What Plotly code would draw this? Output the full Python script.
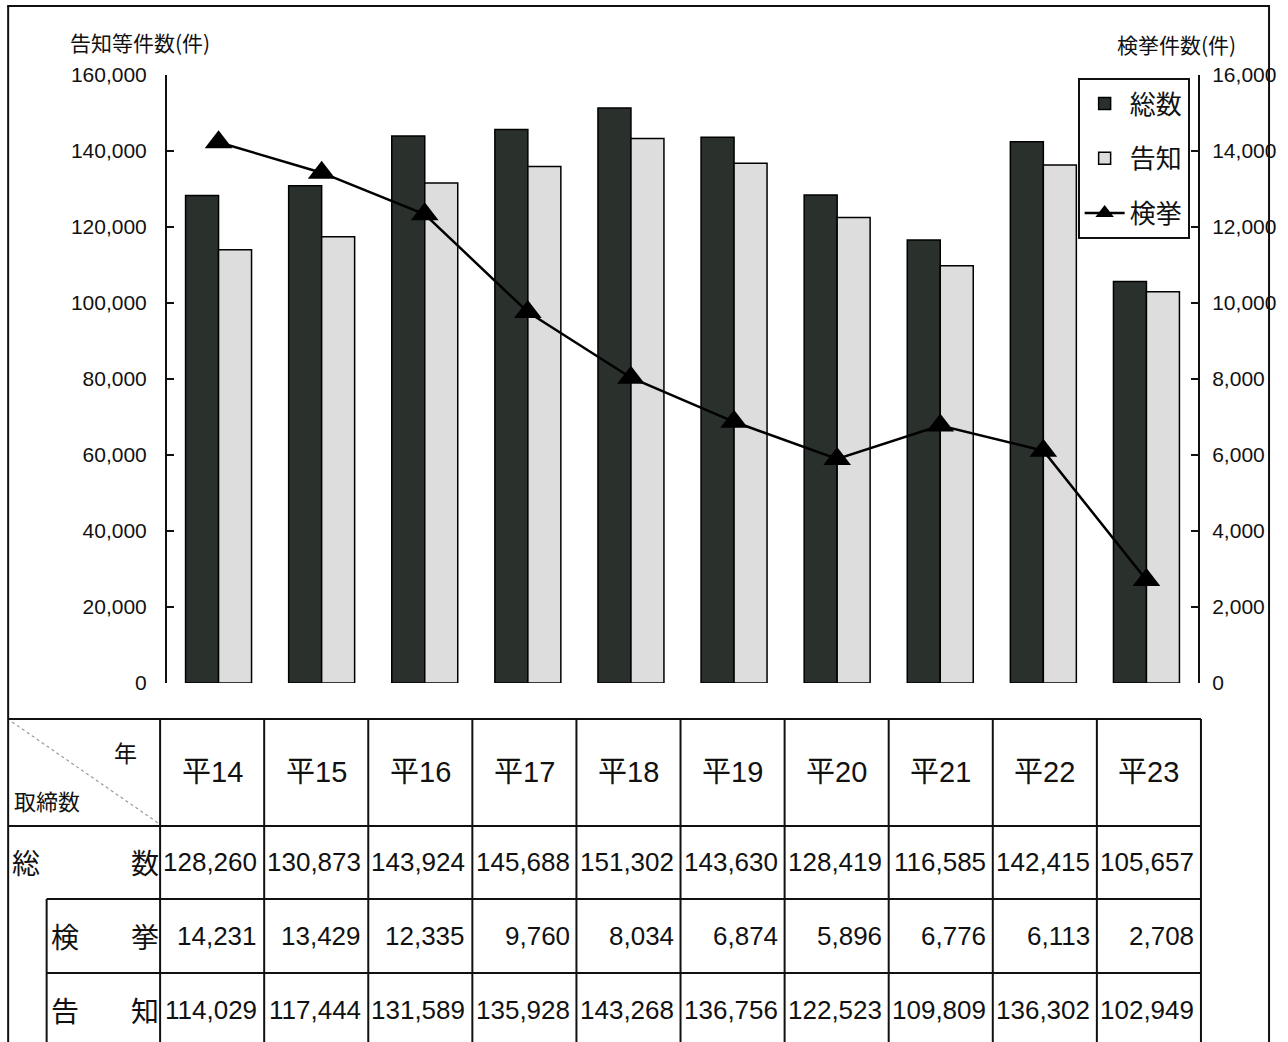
import plotly.graph_objects as go

# ---------------- data ----------------
years = ["平14", "平15", "平16", "平17", "平18", "平19", "平20", "平21", "平22", "平23"]
total = [128260, 130873, 143924, 145688, 151302, 143630, 128419, 116585, 142415, 105657]
arrest = [14231, 13429, 12335, 9760, 8034, 6874, 5896, 6776, 6113, 2708]
notice = [114029, 117444, 131589, 135928, 143268, 136756, 122523, 109809, 136302, 102949]

# ---------------- layout constants ----------------
W, H = 1288, 1042
L, R, T, B = 167, 1212, 75, 683  # plot area in pixels

NUM_FONT = "Liberation Sans, Arial, sans-serif"
CJK_FONT = "Noto Sans CJK JP, Liberation Sans, sans-serif"
MIX_FONT = "Liberation Sans, Noto Sans CJK JP, sans-serif"


def px(x):
    return (x - L) / (R - L)


def py(y):
    return (B - y) / (B - T)


fig = go.Figure()
fig.add_trace(go.Bar(
    x=years, y=total, name="総数", legendgroup="a",
    marker=dict(color="#2a302c", line=dict(color="#000000", width=1.5)),
))
fig.add_trace(go.Bar(
    x=years, y=notice, name="告知", legendgroup="b",
    marker=dict(color="#dcdddc", line=dict(color="#000000", width=1.5)),
))
fig.add_trace(go.Scatter(
    x=years, y=arrest, name="検挙", yaxis="y2", legendgroup="c",
    mode="lines+markers",
    line=dict(color="#000000", width=2.5),
    marker=dict(symbol="triangle-up", size=24, color="#000000"),
))

shapes = []
annotations = []


def hline(y, x0, x1, w=2, color="#111111", dash="solid"):
    shapes.append(dict(type="line", xref="paper", yref="paper",
                       x0=px(x0), x1=px(x1), y0=py(y), y1=py(y),
                       line=dict(color=color, width=w, dash=dash)))


def vline(x, y0, y1, w=2, color="#111111"):
    shapes.append(dict(type="line", xref="paper", yref="paper",
                       x0=px(x), x1=px(x), y0=py(y0), y1=py(y1),
                       line=dict(color=color, width=w)))


def text(x, y, s, size, family=NUM_FONT, xanchor="center"):
    annotations.append(dict(xref="paper", yref="paper", x=px(x), y=py(y),
                            text=s, showarrow=False, xanchor=xanchor,
                            yanchor="middle",
                            font=dict(family=family, size=size, color="#111111")))


# outer frame
hline(6, 5, 1285, w=2)
vline(6, 6, H, w=2)
vline(1284, 6, H, w=2)

# table geometry
tab_left, first_col, col_w = 6, 160, 105.5
tab_right = first_col + col_w * len(years)
row_y = [719, 826, 899, 973, H]
inner_x = 45

hline(row_y[0], tab_left, tab_right)
hline(row_y[1], tab_left, tab_right)
hline(row_y[2], inner_x, tab_right)
hline(row_y[3], inner_x, tab_right)
vline(inner_x, row_y[2], row_y[4])
for i in range(len(years) + 1):
    vline(first_col + i * col_w, row_y[0], row_y[4])
# diagonal in header corner
shapes.append(dict(type="line", xref="paper", yref="paper",
                   x0=px(10), y0=py(722), x1=px(158), y1=py(823),
                   line=dict(color="#999999", width=1.2, dash="dot")))

# header
text(125, 752, "年", 23, CJK_FONT)
text(45, 800, "取締数", 22, CJK_FONT)
for i, yl in enumerate(years):
    text(first_col + (i + 0.5) * col_w, 772, yl, 29, MIX_FONT)

# row labels
row_mid = [862, 936, 1010]
text(24, row_mid[0], "総", 28, CJK_FONT)
text(145, row_mid[0], "数", 28, CJK_FONT)
text(64, row_mid[1], "検", 28, CJK_FONT)
text(145, row_mid[1], "挙", 28, CJK_FONT)
text(64, row_mid[2], "告", 28, CJK_FONT)
text(145, row_mid[2], "知", 28, CJK_FONT)

for r, series in enumerate([total, arrest, notice]):
    for i, v in enumerate(series):
        text(first_col + (i + 1) * col_w - 5, row_mid[r], f"{v:,}", 26, NUM_FONT, xanchor="right")

# axis titles
text(140, 42, "告知等件数(件)", 21, CJK_FONT)
text(1190, 44, "検挙件数(件)", 21, CJK_FONT)

fig.update_layout(
    width=W, height=H, autosize=False,
    margin=dict(l=L, r=W - R, t=T, b=H - B, pad=0),
    paper_bgcolor="white", plot_bgcolor="white",
    barmode="group", bargap=0.36, bargroupgap=0.0,
    font=dict(family=NUM_FONT, color="#111111"),
    xaxis=dict(range=[-0.5, len(years) - 0.5], showticklabels=False,
               showline=False, ticks="", showgrid=False, zeroline=False),
    yaxis=dict(range=[0, 160000], dtick=20000, tickformat=",",
               showline=True, linecolor="#111111", linewidth=2,
               ticks="inside", ticklen=7, tickwidth=2, tickcolor="#111111",
               showgrid=False, zeroline=False,
               ticklabelstandoff=14,
               tickfont=dict(family=NUM_FONT, size=21, color="#111111")),
    yaxis2=dict(range=[0, 16000], dtick=2000, tickformat=",",
                overlaying="y", side="right",
                showline=True, linecolor="#111111", linewidth=2,
                ticks="inside", ticklen=7, tickwidth=2, tickcolor="#111111",
                showgrid=False, zeroline=False,
                ticklabelstandoff=8,
                tickfont=dict(family=NUM_FONT, size=21, color="#111111")),
    legend=dict(x=px(1090), y=py(78), xanchor="left", yanchor="top",
                bgcolor="white", bordercolor="#111111", borderwidth=2,
                font=dict(family=CJK_FONT, size=26, color="#111111"),
                tracegroupgap=18, itemwidth=40),
    shapes=shapes,
    annotations=annotations,
)

fig.write_html(
    "out.html",
    config={"responsive": False, "displayModeBar": False},
    post_script=(
        "document.documentElement.style.margin='0px';"
        "document.body.style.margin='0px';"
        "document.body.style.overflow='hidden';"
    ),
)
